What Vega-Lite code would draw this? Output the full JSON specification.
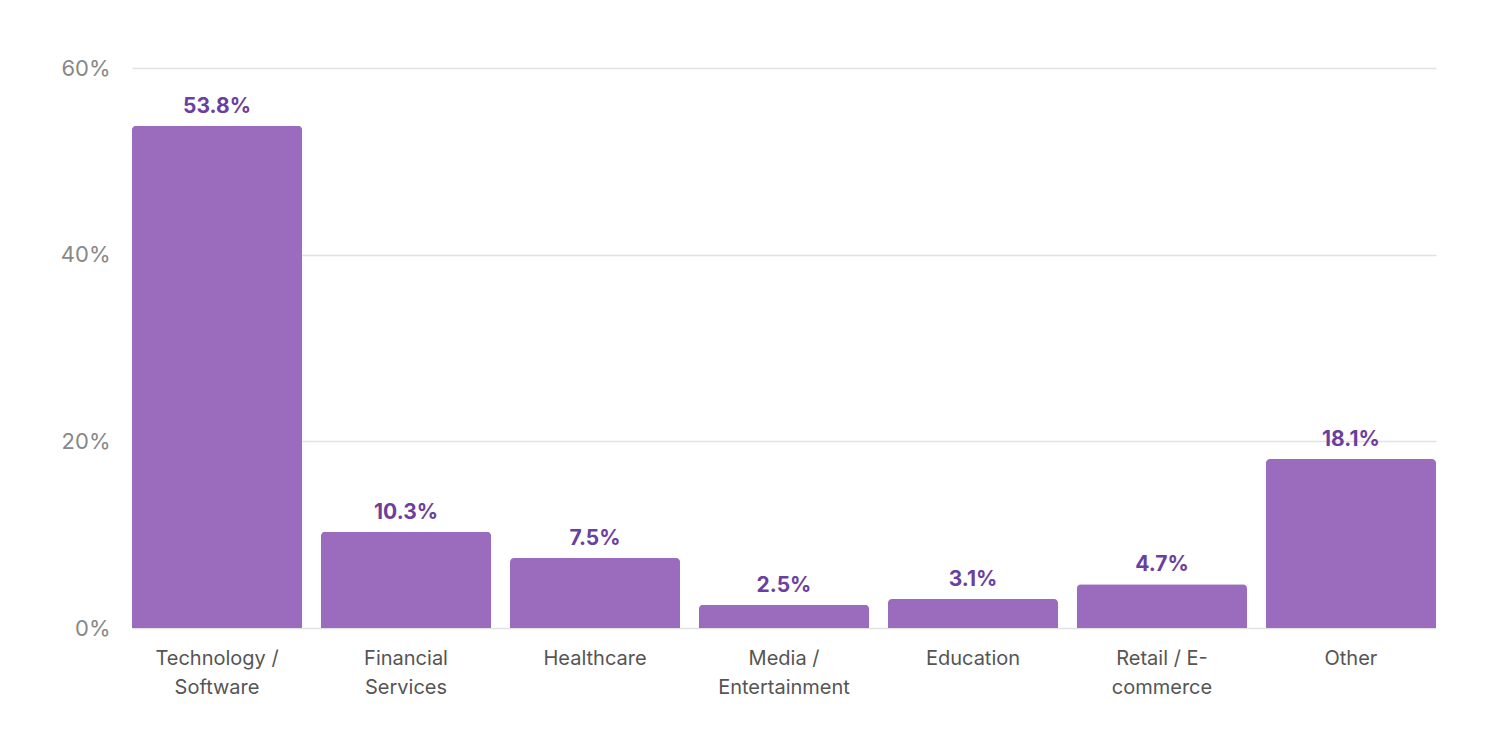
{
  "$schema": "https://vega.github.io/schema/vega-lite/v6.json",
  "width": 1304,
  "height": 560,
  "autosize": {"type": "none"},
  "padding": {"left": 132, "top": 68, "right": 60, "bottom": 106},
  "background": "#ffffff",
  "config": {
    "font": "Inter",
    "view": {"stroke": null}
  },
  "data": {
    "values": [
      {"industry": "Technology / Software", "share": 0.538},
      {"industry": "Financial Services", "share": 0.103},
      {"industry": "Healthcare", "share": 0.075},
      {"industry": "Media / Entertainment", "share": 0.025},
      {"industry": "Education", "share": 0.031},
      {"industry": "Retail / E-commerce", "share": 0.047},
      {"industry": "Other", "share": 0.181}
    ]
  },
  "encoding": {
    "x": {
      "field": "industry",
      "type": "nominal",
      "sort": null,
      "scale": {"paddingInner": 0.1, "paddingOuter": 0},
      "axis": {
        "title": null,
        "labelAngle": 0,
        "domain": false,
        "ticks": false,
        "labelPadding": 20,
        "labelFontSize": 20,
        "labelColor": "#555555",
        "labelLineHeight": 29,
        "labelExpr": "datum.label == 'Technology / Software' ? ['Technology /', 'Software'] : datum.label == 'Financial Services' ? ['Financial', 'Services'] : datum.label == 'Media / Entertainment' ? ['Media /', 'Entertainment'] : datum.label == 'Retail / E-commerce' ? ['Retail / E-', 'commerce'] : datum.label"
      }
    },
    "y": {
      "field": "share",
      "type": "quantitative",
      "scale": {"domain": [0, 0.6]},
      "axis": {
        "title": null,
        "values": [0, 0.2, 0.4, 0.6],
        "format": ".0%",
        "domain": false,
        "ticks": false,
        "labelPadding": 22,
        "labelFontSize": 22,
        "labelColor": "#888888",
        "gridColor": "#e2e2e2",
        "gridWidth": 1.5
      }
    }
  },
  "layer": [
    {
      "mark": {"type": "bar", "color": "#9b6bbd", "cornerRadiusTopLeft": 4, "cornerRadiusTopRight": 4}
    },
    {
      "mark": {"type": "text", "baseline": "bottom", "dy": -9, "fontSize": 21, "fontWeight": "bold", "color": "#6b3fa0"},
      "encoding": {
        "text": {"field": "share", "type": "quantitative", "format": ".1%"}
      }
    }
  ]
}
